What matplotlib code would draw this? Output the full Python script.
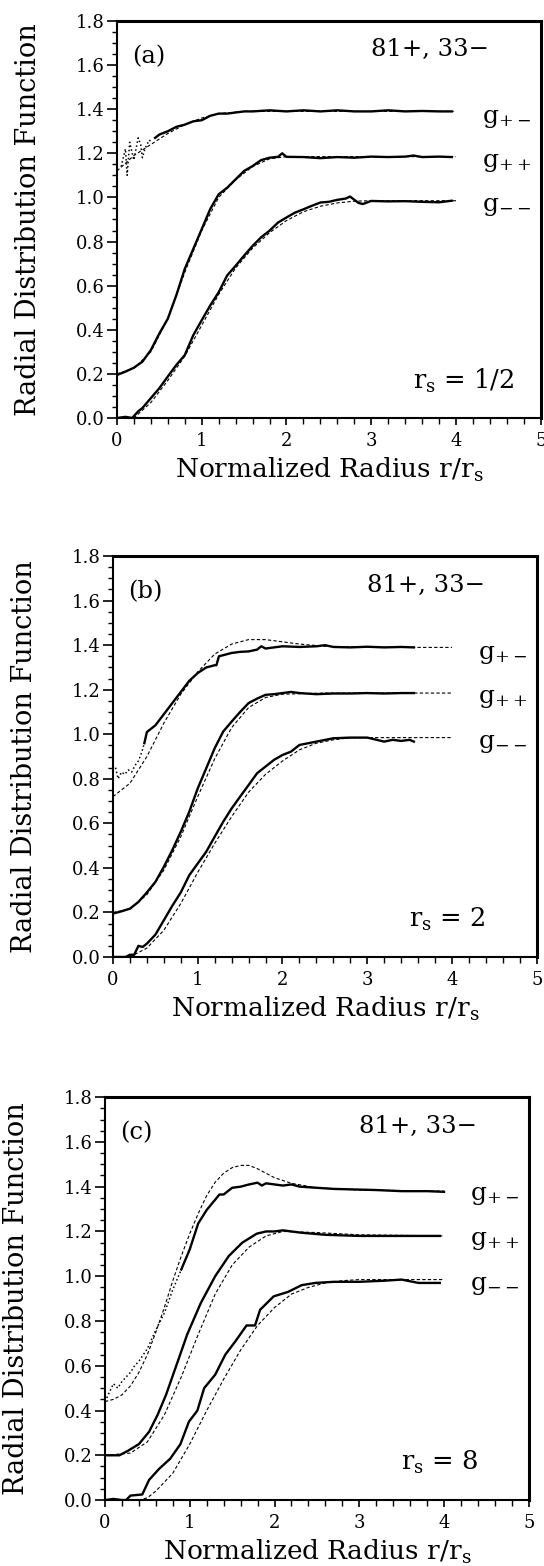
# radial distribution functions, three panels (a), (b), (c)
import matplotlib
matplotlib.use('Agg')
import matplotlib.pyplot as plt
from matplotlib.ticker import MultipleLocator

plt.rcParams['font.family'] = 'DejaVu Serif'
plt.rcParams['mathtext.fontset'] = 'dejavuserif'

# ---------------- panel (a), r_s = 1/2 ----------------
a_pm_dots_r = [0.05, 0.1, 0.12, 0.15, 0.18, 0.2, 0.25, 0.28, 0.3, 0.33, 0.38, 0.42]
a_pm_dots_g = [1.14, 1.22, 1.1, 1.25, 1.2, 1.17, 1.27, 1.24, 1.18, 1.22, 1.26, 1.25]
a_pm_sim_r = [0.45, 0.5, 0.6, 0.7, 0.8, 0.9, 1.0, 1.1, 1.2, 1.3, 1.4, 1.5, 1.6, 1.8, 2.0,
              2.2, 2.4, 2.6, 2.8, 3.0, 3.2, 3.4, 3.6, 3.8, 3.95]
a_pm_sim_g = [1.27, 1.285, 1.30, 1.32, 1.33, 1.345, 1.35, 1.37, 1.38, 1.38, 1.385, 1.39, 1.39,
              1.395, 1.39, 1.395, 1.39, 1.395, 1.39, 1.39, 1.395, 1.39, 1.392, 1.39, 1.39]
a_pm_th_r = [0, 0.2, 0.4, 0.6, 0.8, 1.0, 1.2, 1.5, 2.0, 3.0, 4.0]
a_pm_th_g = [1.12, 1.19, 1.24, 1.29, 1.33, 1.36, 1.38, 1.39, 1.39, 1.39, 1.39]

a_pp_sim_r = [0, 0.1, 0.2, 0.3, 0.4, 0.5, 0.6, 0.7, 0.8, 0.9, 1.0, 1.1, 1.2, 1.3, 1.4, 1.5,
              1.6, 1.7, 1.8, 1.9, 1.95, 2.0, 2.2, 2.4, 2.6, 2.8, 3.0, 3.2, 3.4, 3.5, 3.6, 3.8, 3.95]
a_pp_sim_g = [0.195, 0.21, 0.228, 0.255, 0.308, 0.383, 0.45, 0.556, 0.676, 0.766, 0.856, 0.947,
              1.014, 1.044, 1.082, 1.12, 1.142, 1.169, 1.18, 1.184, 1.2, 1.184, 1.183, 1.178,
              1.183, 1.18, 1.185, 1.183, 1.185, 1.19, 1.183, 1.185, 1.183]
a_pp_th_r = [0, 0.2, 0.4, 0.6, 0.8, 1.0, 1.2, 1.4, 1.6, 1.8, 2.0, 3.0, 4.0]
a_pp_th_g = [0.2, 0.225, 0.3, 0.45, 0.66, 0.85, 1.0, 1.08, 1.14, 1.175, 1.185, 1.185, 1.185]

a_mm_sim_r = [0, 0.1, 0.18, 0.25, 0.3, 0.4, 0.5, 0.6, 0.7, 0.8, 0.9, 1.0, 1.1, 1.2, 1.3, 1.4,
              1.5, 1.6, 1.7, 1.8, 1.9, 2.0, 2.1, 2.2, 2.3, 2.4, 2.5, 2.6, 2.7, 2.75, 2.85, 2.9,
              3.0, 3.2, 3.4, 3.6, 3.8, 3.95]
a_mm_sim_g = [0, 0.005, 0, 0.03, 0.045, 0.09, 0.135, 0.188, 0.24, 0.285, 0.375, 0.443, 0.51,
              0.57, 0.646, 0.69, 0.736, 0.78, 0.819, 0.849, 0.886, 0.909, 0.931, 0.946, 0.962,
              0.977, 0.98, 0.989, 0.995, 1.004, 0.975, 0.97, 0.984, 0.982, 0.983, 0.98, 0.978, 0.985]
a_mm_th_r = [0, 0.2, 0.4, 0.6, 0.8, 1.0, 1.2, 1.4, 1.6, 1.8, 2.0, 2.2, 2.4, 2.6, 2.8, 3.0, 4.0]
a_mm_th_g = [0, 0, 0.07, 0.17, 0.28, 0.42, 0.56, 0.68, 0.77, 0.84, 0.895, 0.935, 0.96, 0.975,
             0.983, 0.985, 0.985]

# ---------------- panel (b), r_s = 2 ----------------
b_pm_dots_r = [0.03, 0.06, 0.1, 0.14, 0.18, 0.22, 0.26, 0.3, 0.34, 0.37]
b_pm_dots_g = [0.85, 0.80, 0.83, 0.82, 0.84, 0.83, 0.86, 0.88, 0.92, 0.96]
b_pm_sim_r = [0.37, 0.4, 0.5, 0.6, 0.7, 0.8, 0.9, 1.0, 1.1, 1.2, 1.22, 1.25, 1.3, 1.4, 1.5,
              1.6, 1.7, 1.75, 1.8, 2.0, 2.2, 2.4, 2.5, 2.6, 2.8, 3.0, 3.2, 3.4, 3.55]
b_pm_sim_g = [0.96, 1.01, 1.04, 1.09, 1.14, 1.19, 1.24, 1.275, 1.30, 1.31, 1.31, 1.35, 1.355,
              1.365, 1.37, 1.372, 1.38, 1.395, 1.385, 1.395, 1.392, 1.395, 1.4, 1.392, 1.39,
              1.393, 1.39, 1.392, 1.39]
b_pm_th_r = [0, 0.2, 0.4, 0.6, 0.8, 1.0, 1.2, 1.4, 1.6, 1.8, 2.0, 2.2, 2.5, 3.0, 4.0]
b_pm_th_g = [0.72, 0.78, 0.90, 1.05, 1.18, 1.28, 1.36, 1.405, 1.425, 1.425, 1.415, 1.405,
             1.395, 1.39, 1.39]

b_pp_sim_r = [0, 0.1, 0.2, 0.3, 0.4, 0.5, 0.6, 0.7, 0.8, 0.9, 1.0, 1.1, 1.2, 1.3, 1.4, 1.5,
              1.6, 1.7, 1.8, 1.9, 2.0, 2.1, 2.2, 2.4, 2.6, 2.8, 3.0, 3.2, 3.4, 3.55]
b_pp_sim_g = [0.195, 0.205, 0.217, 0.247, 0.29, 0.337, 0.405, 0.48, 0.5625, 0.652, 0.757,
              0.847, 0.9375, 1.012, 1.057, 1.10, 1.14, 1.16, 1.177, 1.18, 1.185, 1.19, 1.185,
              1.18, 1.183, 1.183, 1.185, 1.183, 1.185, 1.185]
b_pp_th_r = [0, 0.2, 0.4, 0.6, 0.8, 1.0, 1.2, 1.4, 1.6, 1.8, 2.0, 2.5, 3.0, 4.0]
b_pp_th_g = [0.2, 0.215, 0.28, 0.39, 0.54, 0.72, 0.89, 1.03, 1.12, 1.165, 1.18, 1.185, 1.185,
             1.185]

b_mm_sim_r = [0, 0.15, 0.2, 0.25, 0.3, 0.35, 0.4, 0.5, 0.6, 0.7, 0.8, 0.9, 1.0, 1.1, 1.2, 1.3,
              1.4, 1.5, 1.6, 1.7, 1.8, 1.9, 2.0, 2.1, 2.2, 2.4, 2.6, 2.8, 3.0, 3.2, 3.3, 3.4,
              3.5, 3.55]
b_mm_sim_g = [0, 0, 0.01, 0.01, 0.05, 0.045, 0.06, 0.1, 0.165, 0.23, 0.29, 0.367, 0.42,
              0.4725, 0.54, 0.607, 0.667, 0.72, 0.772, 0.825, 0.855, 0.885, 0.907, 0.922, 0.952,
              0.967, 0.982, 0.985, 0.985, 0.967, 0.975, 0.97, 0.975, 0.967]
b_mm_th_r = [0, 0.2, 0.4, 0.6, 0.8, 1.0, 1.2, 1.4, 1.6, 1.8, 2.0, 2.2, 2.4, 2.6, 2.8, 3.0, 4.0]
b_mm_th_g = [0, 0, 0.04, 0.12, 0.24, 0.38, 0.51, 0.63, 0.74, 0.82, 0.88, 0.93, 0.96, 0.975,
             0.985, 0.985, 0.985]

# ---------------- panel (c), r_s = 8 ----------------
c_pm_dots_r = [0, 0.05, 0.1, 0.15, 0.2, 0.25, 0.3, 0.35, 0.4, 0.5, 0.6, 0.7, 0.8, 0.9]
c_pm_dots_g = [0.44, 0.48, 0.52, 0.50, 0.53, 0.55, 0.57, 0.6, 0.62, 0.676, 0.76, 0.835, 0.94,
               1.03]
c_pm_sim_r = [0.9, 1.0, 1.1, 1.2, 1.3, 1.35, 1.4, 1.5, 1.6, 1.7, 1.8, 1.85, 1.9, 2.0, 2.1,
              2.2, 2.3, 2.5, 2.7, 3.0, 3.2, 3.5, 3.8, 4.0]
c_pm_sim_g = [1.03, 1.12, 1.236, 1.296, 1.342, 1.365, 1.365, 1.395, 1.40, 1.41, 1.418, 1.405,
              1.415, 1.41, 1.405, 1.41, 1.4, 1.395, 1.39, 1.387, 1.385, 1.38, 1.38, 1.377]
c_pm_th_r = [0, 0.1, 0.2, 0.3, 0.4, 0.5, 0.6, 0.7, 0.8, 0.9, 1.0, 1.1, 1.2, 1.3, 1.4, 1.5,
             1.6, 1.7, 1.8, 1.9, 2.0, 2.2, 2.5, 3.0, 4.0]
c_pm_th_g = [0.44, 0.45, 0.47, 0.51, 0.57, 0.65, 0.75, 0.86, 0.98, 1.09, 1.19, 1.28, 1.36,
             1.42, 1.46, 1.485, 1.495, 1.495, 1.48, 1.46, 1.44, 1.415, 1.395, 1.385, 1.38]

c_pp_sim_r = [0, 0.1, 0.17, 0.27, 0.4, 0.52, 0.62, 0.72, 0.85, 0.97, 1.13, 1.3, 1.46, 1.62,
              1.79, 1.9, 2.0, 2.1, 2.3, 2.6, 3.0, 3.5, 3.95]
c_pp_sim_g = [0.2, 0.2, 0.2, 0.22, 0.25, 0.305, 0.38, 0.47, 0.61, 0.74, 0.88, 1.0, 1.09, 1.15,
              1.19, 1.2, 1.2, 1.205, 1.195, 1.185, 1.18, 1.18, 1.18]
c_pp_th_r = [0, 0.3, 0.5, 0.7, 0.9, 1.1, 1.3, 1.5, 1.7, 1.9, 2.1, 2.5, 3.0, 4.0]
c_pp_th_g = [0.2, 0.21, 0.26, 0.38, 0.55, 0.74, 0.92, 1.05, 1.13, 1.18, 1.2, 1.195, 1.185, 1.18]

c_mm_sim_r = [0, 0.1, 0.2, 0.25, 0.3, 0.44, 0.52, 0.64, 0.77, 0.89, 0.99, 1.09, 1.17, 1.3,
              1.42, 1.54, 1.67, 1.77, 1.83, 1.99, 2.16, 2.32, 2.48, 2.7, 3.0, 3.3, 3.5, 3.7, 3.95]
c_mm_sim_g = [0, 0.005, 0, 0, 0.02, 0.025, 0.09, 0.14, 0.185, 0.25, 0.35, 0.4, 0.5, 0.56, 0.65,
              0.71, 0.78, 0.78, 0.85, 0.91, 0.93, 0.96, 0.97, 0.975, 0.975, 0.98, 0.985, 0.97,
              0.97]
c_mm_th_r = [0, 0.4, 0.5, 0.6, 0.8, 1.0, 1.2, 1.4, 1.6, 1.8, 2.0, 2.2, 2.4, 2.6, 2.8, 3.0, 4.0]
c_mm_th_g = [0, 0, 0.01, 0.04, 0.12, 0.25, 0.4, 0.54, 0.67, 0.78, 0.86, 0.92, 0.95, 0.97, 0.98,
             0.985, 0.985]

panel_labels = ['(a)', '(b)', '(c)']
rs_labels = ['1/2', '2', '8']
curve_names = [r'$\mathregular{g_{+-}}$', r'$\mathregular{g_{++}}$', r'$\mathregular{g_{--}}$']
curve_levels = [1.36, 1.16, 0.96]

panels = [
    dict(dots=(a_pm_dots_r, a_pm_dots_g),
         sim=[(a_pm_sim_r, a_pm_sim_g), (a_pp_sim_r, a_pp_sim_g), (a_mm_sim_r, a_mm_sim_g)],
         th=[(a_pm_th_r, a_pm_th_g), (a_pp_th_r, a_pp_th_g), (a_mm_th_r, a_mm_th_g)]),
    dict(dots=(b_pm_dots_r, b_pm_dots_g),
         sim=[(b_pm_sim_r, b_pm_sim_g), (b_pp_sim_r, b_pp_sim_g), (b_mm_sim_r, b_mm_sim_g)],
         th=[(b_pm_th_r, b_pm_th_g), (b_pp_th_r, b_pp_th_g), (b_mm_th_r, b_mm_th_g)]),
    dict(dots=(c_pm_dots_r, c_pm_dots_g),
         sim=[(c_pm_sim_r, c_pm_sim_g), (c_pp_sim_r, c_pp_sim_g), (c_mm_sim_r, c_mm_sim_g)],
         th=[(c_pm_th_r, c_pm_th_g), (c_pp_th_r, c_pp_th_g), (c_mm_th_r, c_mm_th_g)]),
]

# axes boxes in figure fractions [left, bottom, width, height]
boxes = [[0.215, 0.7331, 0.779, 0.2535],
         [0.2077, 0.3889, 0.779, 0.2560],
         [0.193, 0.0421, 0.779, 0.2573]]


def plot_panel(ax, p, label, rs):
    # theory, thin dashed
    for r, g in p['th']:
        ax.plot(r, g, '--', color='black', lw=0.8, dashes=(3, 2))
    # simulation, noisy solid
    for r, g in p['sim']:
        ax.plot(r, g, '-', color='black', lw=1.7)
    # sparse points at small r
    ax.plot(p['dots'][0], p['dots'][1], ':', color='black', lw=1.1)

    ax.set_xlim(0, 5)
    ax.set_ylim(0, 1.8)
    ax.xaxis.set_major_locator(MultipleLocator(1))
    ax.xaxis.set_minor_locator(MultipleLocator(0.2))
    ax.yaxis.set_major_locator(MultipleLocator(0.2))
    ax.yaxis.set_minor_locator(MultipleLocator(0.05))
    ax.yaxis.set_major_formatter(plt.FormatStrFormatter('%.1f'))
    ax.tick_params(which='both', direction='out', labelsize=13)
    ax.tick_params(axis='y', which='major', length=7, width=1.2, pad=2)
    ax.tick_params(axis='y', which='minor', length=3.5, width=1.0)
    ax.tick_params(axis='x', which='major', length=5, width=1.2, pad=5)
    ax.tick_params(axis='x', which='minor', length=4, width=1.0)
    for side in ['left', 'bottom']:
        ax.spines[side].set_linewidth(1.5)
    for side in ['top', 'right']:
        ax.spines[side].set_linewidth(2.2)

    ax.set_xlabel(r'Normalized Radius r/$\mathregular{r_s}$', fontsize=19, labelpad=4)
    ax.set_ylabel('Radial Distribution Function', fontsize=19.5, labelpad=24)

    ax.text(0.18, 1.64, label, fontsize=17.5, va='center')
    ax.text(3.0, 1.67, '81+, 33\u2212', fontsize=17.5, va='center', ha='left')
    for name, lev in zip(curve_names, curve_levels):
        ax.text(4.31, lev, name, fontsize=18, va='center')
    ax.text(3.49, 0.17, r'$\mathregular{r_s}$ = ' + rs, fontsize=18.5, va='center', ha='left')


fig = plt.figure(figsize=(5.44, 15.66), dpi=100)
for box, p, label, rs in zip(boxes, panels, panel_labels, rs_labels):
    ax = fig.add_axes(box)
    plot_panel(ax, p, label, rs)

plt.savefig('out.png', dpi=100)
